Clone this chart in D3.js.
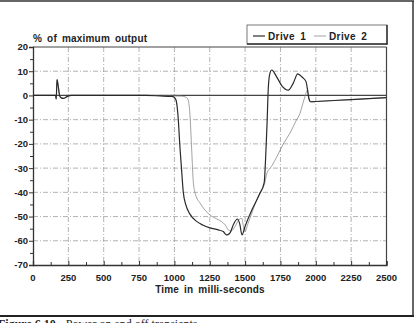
<!DOCTYPE html>
<html>
<head>
<meta charset="utf-8">
<script src="https://cdn.jsdelivr.net/npm/d3@7"></script>
<style>
  body { margin: 0; background: #fff; }
  svg { display: block; }
  .lbl { font-family: "Liberation Sans", Arial, sans-serif; font-weight: bold; fill: #222; }
</style>
</head>
<body>
<div id="chart"></div>
<script>
// ---- data ----
const drive1Time = [0, 150, 160, 164, 170, 178, 188, 200, 215, 240, 270, 800, 900, 980, 1000, 1012, 1025, 1040, 1050, 1063, 1080, 1110, 1157, 1200, 1252, 1310, 1345, 1369, 1390, 1420, 1445, 1462, 1478, 1500, 1550, 1600, 1635, 1645, 1655, 1664, 1675, 1688, 1720, 1760, 1805, 1840, 1872, 1905, 1931, 1940, 1950, 1962, 2000, 2250, 2500];
const drive1Value = [0, 0, 0, -1.5, 6.5, 4, 0, -1, -1.2, -0.5, 0, 0, -0.2, -0.4, -0.8, -2, -8, -22, -30, -40, -45, -49, -52, -53.5, -54.7, -55.5, -56.2, -57.6, -57, -53, -51, -53, -57.6, -54, -47, -41, -36, -26, -12, 3, 9, 10.5, 8, 4, 2.2, 5, 8.9, 7.5, 5.7, 2.9, -1, -2.6, -2.5, -1.7, -0.9];

const drive2Time = [0, 150, 160, 164, 170, 178, 188, 200, 215, 240, 270, 850, 950, 1050, 1085, 1098, 1110, 1122, 1134, 1150, 1181, 1216, 1252, 1300, 1334, 1360, 1381, 1400, 1430, 1460, 1476, 1488, 1499, 1520, 1570, 1610, 1640, 1652, 1690, 1723, 1770, 1817, 1860, 1888, 1910, 1923, 1940, 1950, 1962, 2000, 2250, 2500];
const drive2Value = [0, 0, 0, -1.5, 6.5, 4, 0, -1, -1.2, -0.5, 0, 0, -0.2, -0.3, -0.8, -2, -8, -22, -36, -41, -44.4, -47.3, -49.4, -51, -52.1, -53.5, -55.5, -56, -54, -51, -50.7, -54, -56.2, -53, -45, -39.5, -36, -32.5, -29, -25.5, -20, -15.6, -10.5, -7.4, -3, -0.5, 2.2, -0.5, -2.6, -2.5, -1.7, -0.9];

const xTicks = [0, 250, 500, 750, 1000, 1250, 1500, 1750, 2000, 2250, 2500];
const yTicks = [20, 10, 0, -10, -20, -30, -40, -50, -60, -70];
const seriesNames = ["Drive 1", "Drive 2"];

const W = 416, H = 323;
const margin = {top: 47, right: 29.5, bottom: 58, left: 33};

const svg = d3.select("#chart").append("svg")
    .attr("width", W)
    .attr("height", H);

// outer frame of the figure
svg.append("line").attr("x1", 0).attr("x2", 414).attr("y1", 1).attr("y2", 1)
    .attr("stroke", "#333").attr("stroke-width", 1.5);
svg.append("line").attr("x1", 413).attr("x2", 413).attr("y1", 1).attr("y2", 317)
    .attr("stroke", "#333").attr("stroke-width", 1.5);
svg.append("line").attr("x1", 0).attr("x2", 414).attr("y1", 316).attr("y2", 316)
    .attr("stroke", "#222").attr("stroke-width", 2);

// caption (cropped by the page edge, as in the scan)
svg.append("text")
    .attr("x", -2).attr("y", 328)
    .attr("font-family", "Liberation Serif, serif")
    .attr("font-size", 12)
    .attr("fill", "#222")
    .html('<tspan font-weight="bold">Figure 6.10</tspan><tspan dx="10">Power on and off transients</tspan>');

const x = d3.scaleLinear().domain([0, 2500]).range([margin.left, W - margin.right]);
const y = d3.scaleLinear().domain([-70, 20]).range([H - margin.bottom, margin.top]);

// grid
const grid = svg.append("g").attr("class", "grid");
grid.selectAll(".vg")
    .data(xTicks.filter(d => d > 0 && d < 2500))
    .enter().append("line")
    .attr("x1", d => x(d)).attr("x2", d => x(d))
    .attr("y1", y(20)).attr("y2", y(-70))
    .attr("stroke", "#a0a0a0").attr("stroke-width", 0.8)
    .attr("stroke-dasharray", "5,2,1,2");
grid.selectAll(".hg")
    .data(yTicks.filter(d => d > -70 && d < 20 && d !== 0))
    .enter().append("line")
    .attr("x1", x(0)).attr("x2", x(2500))
    .attr("y1", d => y(d)).attr("y2", d => y(d))
    .attr("stroke", "#a0a0a0").attr("stroke-width", 0.8)
    .attr("stroke-dasharray", "5,2,1,2");

// zero line and plot borders
svg.append("line").attr("x1", x(0)).attr("x2", x(2500)).attr("y1", y(0)).attr("y2", y(0))
    .attr("stroke", "#444").attr("stroke-width", 1.3);
svg.append("line").attr("x1", x(0)).attr("x2", x(2500)).attr("y1", y(20)).attr("y2", y(20))
    .attr("stroke", "#444").attr("stroke-width", 1.2);
svg.append("line").attr("x1", x(2500)).attr("x2", x(2500)).attr("y1", y(20)).attr("y2", y(-70))
    .attr("stroke", "#444").attr("stroke-width", 1.2);

// x axis, ticks pointing up into the plot
const xAxis = d3.axisTop(x)
    .tickValues(d3.range(0, 2501, 125))
    .tickSize(4)
    .tickFormat("");
const gx = svg.append("g")
    .attr("transform", `translate(0, ${y(-70)})`)
    .call(xAxis);
gx.select(".domain").attr("stroke", "#333").attr("stroke-width", 1.3);
gx.selectAll(".tick line").attr("stroke", "#333").attr("stroke-width", 1)
    .attr("y2", d => d % 250 === 0 ? -4 : -3);

svg.selectAll(".xlab")
    .data(xTicks)
    .enter().append("text")
    .attr("class", "lbl")
    .attr("x", d => x(d))
    .attr("y", 281)
    .attr("text-anchor", "middle")
    .attr("font-size", 9.5)
    .text(d => d);

// y axis
const yAxis = d3.axisLeft(y)
    .tickValues(d3.range(-70, 21, 5))
    .tickSize(4)
    .tickFormat("");
const gy = svg.append("g")
    .attr("transform", `translate(${x(0)}, 0)`)
    .call(yAxis);
gy.select(".domain").attr("stroke", "#333").attr("stroke-width", 1.3);
gy.selectAll(".tick line").attr("stroke", "#333").attr("stroke-width", 1)
    .attr("x2", d => d % 10 === 0 ? -4 : -3);

svg.selectAll(".ylab")
    .data(yTicks)
    .enter().append("text")
    .attr("class", "lbl")
    .attr("x", 28)
    .attr("y", d => y(d) + 3.4)
    .attr("text-anchor", "end")
    .attr("font-size", 9.5)
    .text(d => d);

// titles
svg.append("text")
    .attr("class", "lbl")
    .attr("x", 33).attr("y", 42)
    .attr("font-size", 10)
    .attr("letter-spacing", 0.2)
    .attr("word-spacing", 2)
    .text("% of maximum output");

svg.append("text")
    .attr("class", "lbl")
    .attr("x", 210).attr("y", 293)
    .attr("text-anchor", "middle")
    .attr("font-size", 10)
    .attr("letter-spacing", 0.2)
    .attr("word-spacing", 2)
    .text("Time in milli-seconds");

// series
const line = d3.line()
    .x(d => x(d[0]))
    .y(d => y(d[1]))
    .curve(d3.curveMonotoneX);

const drive2 = drive2Time.map((t, i) => [t, drive2Value[i]]);
const drive1 = drive1Time.map((t, i) => [t, drive1Value[i]]);

svg.append("path")
    .datum(drive2)
    .attr("fill", "none")
    .attr("stroke", "#8a8a8a")
    .attr("stroke-width", 0.8)
    .attr("d", line);

svg.append("path")
    .datum(drive1)
    .attr("fill", "none")
    .attr("stroke", "#2a2a2a")
    .attr("stroke-width", 1.2)
    .attr("d", line);

// legend box
const legend = svg.append("g").attr("class", "legend");
legend.append("rect")
    .attr("x", 247).attr("y", 25)
    .attr("width", 140).attr("height", 19)
    .attr("fill", "#fff")
    .attr("stroke", "#555").attr("stroke-width", 0.8);
legend.append("line")
    .attr("x1", 247).attr("x2", 387.5).attr("y1", 44).attr("y2", 44)
    .attr("stroke", "#333").attr("stroke-width", 1.5);
legend.append("line")
    .attr("x1", 387).attr("x2", 387).attr("y1", 25).attr("y2", 44.5)
    .attr("stroke", "#333").attr("stroke-width", 1.5);

const legendItems = [
    {name: seriesNames[0], x: 253, color: "#2a2a2a", w: 1.2},
    {name: seriesNames[1], x: 314, color: "#8a8a8a", w: 0.8}
];
legendItems.forEach(d => {
    legend.append("line")
        .attr("x1", d.x).attr("x2", d.x + 12)
        .attr("y1", 36).attr("y2", 36)
        .attr("stroke", d.color).attr("stroke-width", d.w);
    legend.append("text")
        .attr("class", "lbl")
        .attr("x", d.x + 15).attr("y", 39.5)
        .attr("font-size", 10)
        .attr("letter-spacing", 0.4)
        .attr("word-spacing", 2)
        .text(d.name);
});
</script>
</body>
</html>
